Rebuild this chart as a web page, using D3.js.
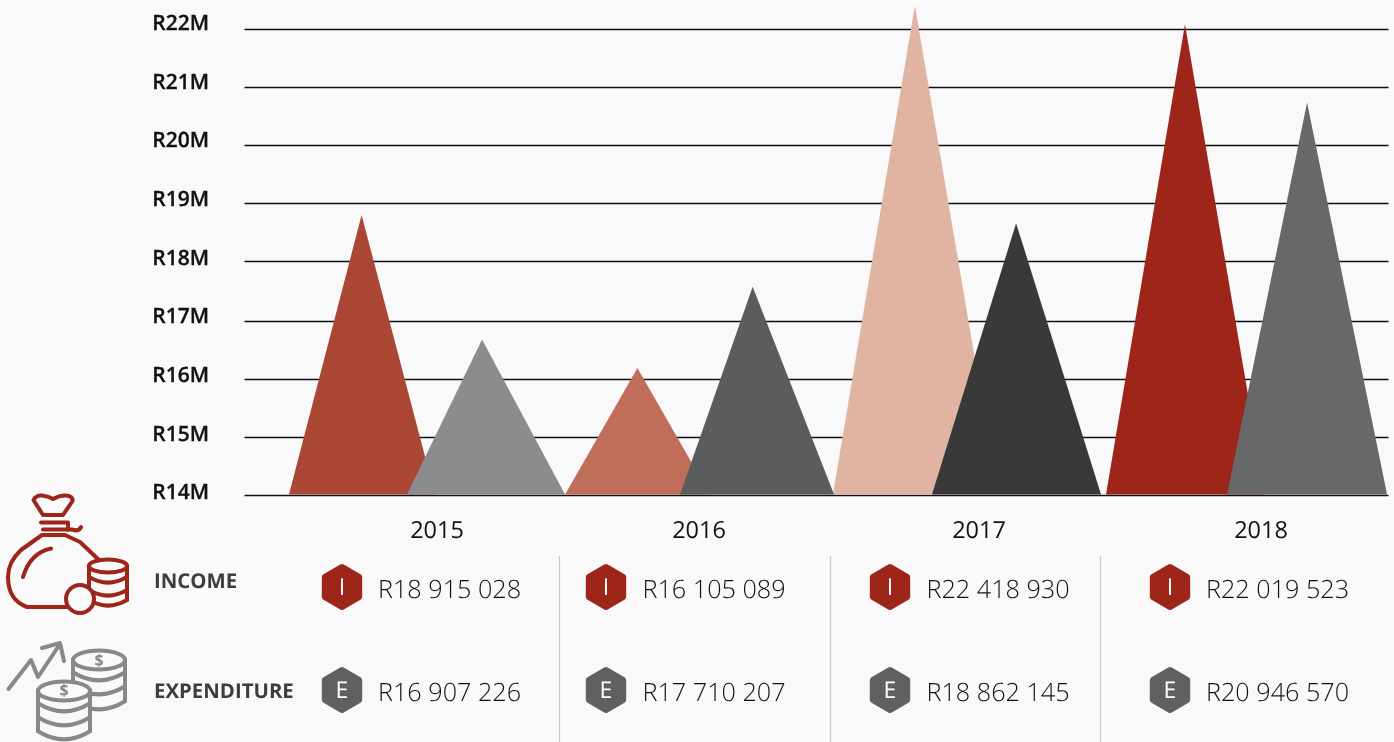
<!DOCTYPE html>
<html>
<head>
<meta charset="utf-8">
<script src="https://cdn.jsdelivr.net/npm/d3@7"></script>
<style>
  html, body { margin: 0; padding: 0; background: #f9f9f9; overflow: hidden; }
  svg { display: block; font-family: "Open Sans", sans-serif; will-change: opacity; text-rendering: geometricPrecision; }
</style>
</head>
<body>
<svg id="chart" width="1394" height="742"></svg>
<script>
// data
var years = ["2015", "2016", "2017", "2018"];
var yTicks = [14, 15, 16, 17, 18, 19, 20, 21, 22];
// printed totals
var incomeTotals = [18915028, 16105089, 22418930, 22019523];
var expenditureTotals = [16907226, 17710207, 18862145, 20946570];
// peak heights as drawn, in R millions
var incomePeaks = [18.8, 16.2, 22.41, 22.09];
var expenditurePeaks = [16.69, 17.58, 18.66, 20.74];

var incomeColors = ["#aa4734", "#c06e59", "#e0b3a2", "#9d251a"];
var expenditureColors = ["#8b8c8e", "#5b5c5e", "#393939", "#676869"];

var svg = d3.select("#chart");
var bg = "#f9f9f9";
var red = "#9d251a";
var grey = "#5f6062";
var iconGrey = "#87888a";

// scales
var x = d3.scaleBand().domain(years).range([289, 1389]);
// the gridlines in the picture are not quite even, one gap is 2px wider
var y = d3.scaleLinear().domain([14, 17, 18, 22]).range([495.5, 321.5, 261.5, 29.5]);
var yLabel = d3.scaleLinear().domain([14, 22]).range([492.5, 23.5]);

// gridlines
var grid = svg.append("g")
  .attr("transform", "translate(244.5,0)")
  .call(d3.axisRight(y).tickValues(yTicks).tickSize(1144).tickFormat("").offset(0));
grid.select(".domain").remove();
grid.selectAll("line").attr("stroke", "#111").attr("stroke-width", 1.4);

// y labels
var yAxis = svg.append("g")
  .attr("transform", "translate(209,0)")
  .call(d3.axisLeft(yLabel).tickValues(yTicks).tickSize(0).tickPadding(0).offset(0)
    .tickFormat(function (d) { return "R" + d + "M"; }));
yAxis.select(".domain").remove();
yAxis.selectAll("text")
  .attr("font-family", "'Open Sans'")
  .attr("font-size", 21)
  .attr("font-weight", 600)
  .attr("fill", "#111")
  .attr("stroke", "#111")
  .attr("stroke-width", 0.3);

// triangles: left, peak and right as a share of one year band
var incomeShape = [
  [0, 0.264, 0.531],
  [0.004, 0.267, 0.531],
  [-0.022, 0.276, 0.578],
  [-0.029, 0.258, 0.549]
];
var expenditureShape = [
  [0.429, 0.702, 1.004],
  [0.422, 0.686, 0.982],
  [0.338, 0.644, 0.953],
  [0.411, 0.702, 0.993]
];

function triangle(year, peak, shape) {
  var x0 = x(year), w = x.bandwidth(), base = y(14) - 1;
  return "M" + (x0 + shape[0] * w) + "," + base +
    "L" + (x0 + shape[1] * w) + "," + y(peak) +
    "L" + (x0 + shape[2] * w) + "," + base + "Z";
}

svg.append("g").selectAll("path")
  .data(years)
  .enter()
  .append("path")
  .attr("d", function (d, i) { return triangle(d, incomePeaks[i], incomeShape[i]); })
  .attr("fill", function (d, i) { return incomeColors[i]; });

svg.append("g").selectAll("path")
  .data(years)
  .enter()
  .append("path")
  .attr("d", function (d, i) { return triangle(d, expenditurePeaks[i], expenditureShape[i]); })
  .attr("fill", function (d, i) { return expenditureColors[i]; });

// year labels
var yearX = [437, 699, 979, 1261];
svg.append("g").selectAll("text")
  .data(years)
  .enter()
  .append("text")
  .attr("x", function (d, i) { return yearX[i]; })
  .attr("y", 538)
  .attr("text-anchor", "middle")
  .attr("font-size", 23.5)
  .attr("fill", "#111")
  .text(function (d) { return d; });

// table below the chart
var badgeX = [342, 606, 890, 1170];
var amountX = [378, 642.5, 926.5, 1206];
var rules = [559, 830, 1100];

svg.append("g").selectAll("line")
  .data(rules)
  .enter()
  .append("line")
  .attr("x1", function (d) { return d + 0.5; })
  .attr("x2", function (d) { return d + 0.5; })
  .attr("y1", 556)
  .attr("y2", 742)
  .attr("stroke", "#c8c8c8")
  .attr("stroke-width", 1.2);

function money(v) {
  return "R" + d3.format(",")(v).replace(/,/g, " ");
}

function row(totals, letter, color, cy, baseline) {
  var g = svg.append("g");
  var hex = "M0,-19.5L16.7,-9.7V9.7L0,19.5L-16.7,9.7V-9.7Z";
  g.selectAll("path")
    .data(totals)
    .enter()
    .append("path")
    .attr("d", hex)
    .attr("transform", function (d, i) { return "translate(" + badgeX[i] + "," + cy + ")"; })
    .attr("fill", color)
    .attr("stroke", color)
    .attr("stroke-width", 7)
    .attr("stroke-linejoin", "round");
  g.selectAll(".letter")
    .data(totals)
    .enter()
    .append("text")
    .attr("class", "letter")
    .attr("x", function (d, i) { return badgeX[i]; })
    .attr("y", cy + 8)
    .attr("text-anchor", "middle")
    .attr("font-size", 23)
    .attr("font-weight", 400)
    .attr("fill", "#fff")
    .text(letter);
  g.selectAll(".amount")
    .data(totals)
    .enter()
    .append("text")
    .attr("class", "amount")
    .attr("x", function (d, i) { return amountX[i]; })
    .attr("y", baseline)
    .attr("font-size", 25.2)
    .attr("font-weight", 300)
    .attr("fill", "#111")
    .text(money);
}

row(incomeTotals, "I", red, 587, 598);
row(expenditureTotals, "E", grey, 690, 701);

svg.append("text")
  .attr("x", 154).attr("y", 588)
  .attr("font-size", 20.4).attr("font-weight", 700).attr("fill", "#3d3d3d")
  .text("INCOME");
svg.append("text")
  .attr("x", 154).attr("y", 698)
  .attr("font-size", 20.4).attr("font-weight", 700).attr("fill", "#3d3d3d")
  .text("EXPENDITURE");

// coin stack, used by both icons
function stack(g, cx, top, rx, ry, bottom, bands, color, sw) {
  var arc = function (cy) {
    return "M" + (cx - rx) + "," + (cy - ry * 0.6) +
      "Q" + cx + "," + (cy + ry * 1.1) + " " + (cx + rx) + "," + (cy - ry * 0.6);
  };
  var s = g.append("g").attr("fill", "none").attr("stroke", color).attr("stroke-width", sw)
    .attr("stroke-linecap", "round");
  s.append("path")
    .attr("d", "M" + (cx - rx) + "," + top + "V" + (bottom - ry * 0.6) +
      "Q" + cx + "," + (bottom + ry * 1.1) + " " + (cx + rx) + "," + (bottom - ry * 0.6) +
      "V" + top + "Z")
    .attr("fill", bg);
  s.append("ellipse").attr("cx", cx).attr("cy", top).attr("rx", rx).attr("ry", ry).attr("fill", bg);
  bands.forEach(function (b) {
    s.append("path").attr("d", arc(b));
  });
}

// money bag
var bag = svg.append("g");
bag.append("path")
  .attr("fill", "none")
  .attr("stroke", red)
  .attr("stroke-width", 4)
  .attr("stroke-linecap", "round")
  .attr("stroke-linejoin", "round")
  .attr("d", "M33.5,500Q36,495 42,495.5Q48,496 53,499Q60,495 66,495.5Q73,496 72.5,501L63,515H43Z" +
    "M41,522.5H68V530M43,529.5H72Q79,532 81,527" +
    "M42,535H65L80,542L99,560" +
    "M42,535L21,550Q8,562 8,577Q8,600 27,607H68" +
    "M51,548.5Q30,553 23,577");
stack(bag, 108, 566, 19, 6.5, 604, [581, 594], red, 4);
bag.append("circle")
  .attr("cx", 80).attr("cy", 599).attr("r", 14)
  .attr("fill", bg).attr("stroke", red).attr("stroke-width", 4);

// coins and arrow
var coins = svg.append("g");
coins.append("path")
  .attr("fill", "none")
  .attr("stroke", iconGrey)
  .attr("stroke-width", 4)
  .attr("stroke-linecap", "round")
  .attr("stroke-linejoin", "round")
  .attr("d", "M8.5,689L31,660L38,677L60,644M42,648L60,643L64,661");
stack(coins, 99, 660, 26, 9.5, 707, [678, 692], iconGrey, 4);
stack(coins, 64, 691, 26, 9.5, 737, [709, 723], iconGrey, 4);
[[99, 666], [64, 696]].forEach(function (p) {
  coins.append("text")
    .attr("x", p[0]).attr("y", p[1])
    .attr("text-anchor", "middle")
    .attr("font-size", 16)
    .attr("font-weight", 700)
    .attr("fill", iconGrey)
    .text("$");
});
</script>
</body>
</html>
